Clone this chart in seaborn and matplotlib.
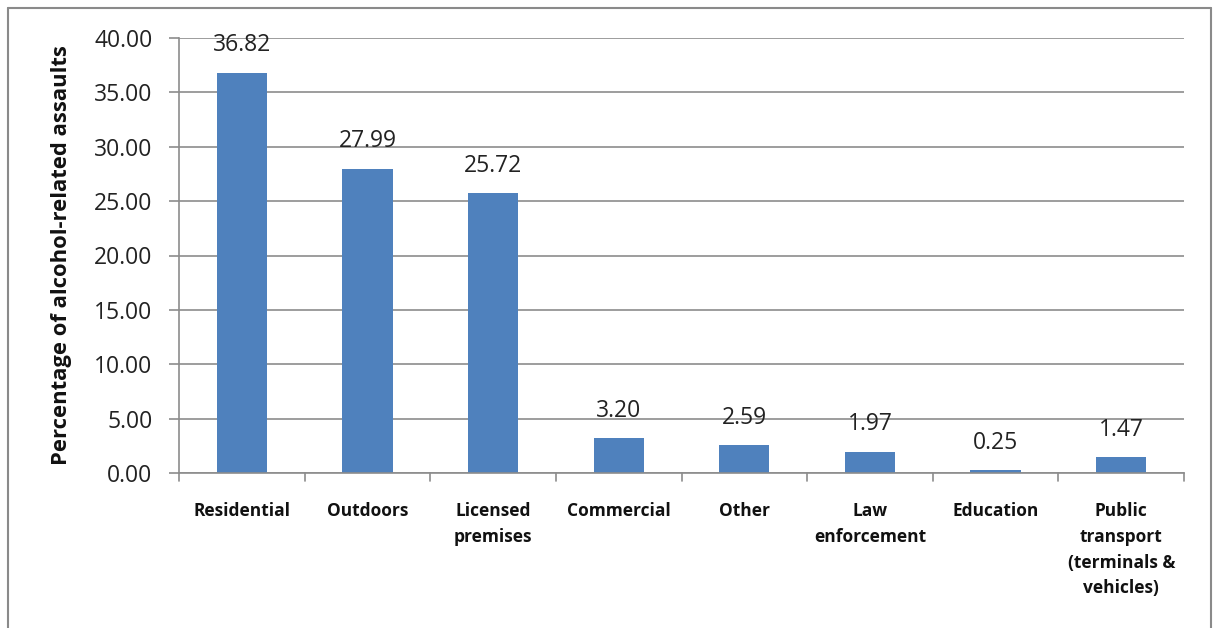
import matplotlib
matplotlib.use("Agg")
import matplotlib.pyplot as plt
from matplotlib.lines import Line2D
import seaborn as sns
import pandas as pd

categories = ["Residential", "Outdoors", "Licensed\npremises", "Commercial",
              "Other", "Law\nenforcement", "Education",
              "Public\ntransport\n(terminals &\nvehicles)"]
values = [36.82, 27.99, 25.72, 3.20, 2.59, 1.97, 0.25, 1.47]
y_ticks = [0, 5, 10, 15, 20, 25, 30, 35, 40]

df = pd.DataFrame({"location": categories, "pct": values})

sns.set_theme(style="white")
plt.rcParams["font.family"] = ["Open Sans", "DejaVu Sans"]

fig = plt.figure(figsize=(12.13, 6.28), dpi=100)
W, H = 1213, 628
ax = fig.add_axes([179 / W, 1 - 473 / H, (1184 - 179) / W, (473 - 38) / H])

sns.barplot(data=df, x="location", y="pct", color="#4F81BD", width=0.4,
            saturation=1, ax=ax)
for p in ax.patches:
    p.set_edgecolor("none")

ax.bar_label(ax.containers[0], labels=[f"{v:.2f}" for v in values],
             padding=11, fontsize=16.5, color="#222222")

ax.set_xlim(-0.5, len(categories) - 0.5)
ax.set_ylim(0, 40)
ax.set_yticks(y_ticks)
ax.set_yticklabels([f"{t:.2f}" for t in y_ticks], fontsize=16.5, color="#222222")
ax.yaxis.grid(True, color="#8c8c8c", linewidth=1.2)
ax.set_axisbelow(True)

ax.set_xticks(range(len(categories)))
ax.set_xticklabels(categories, fontsize=12.5, fontweight="bold", color="#111111",
                   linespacing=1.55)
ax.tick_params(axis="x", length=0, pad=21)
ax.tick_params(axis="y", left=True, length=7, width=1.2, color="#8c8c8c", pad=12)

# category separator ticks below the baseline
for b in range(len(categories) + 1):
    ax.add_line(Line2D([b - 0.5, b - 0.5], [0, -0.018],
                       transform=ax.get_xaxis_transform(), color="#8c8c8c",
                       lw=1.2, clip_on=False))

for side in ["top", "right"]:
    ax.spines[side].set_visible(False)
ax.spines["left"].set_color("#8c8c8c")
ax.spines["left"].set_linewidth(1.2)
ax.spines["bottom"].set_color("#8c8c8c")
ax.spines["bottom"].set_linewidth(1.2)

ax.set_xlabel("")
ax.set_ylabel("Percentage of alcohol-related assaults", fontsize=15.8,
              fontweight="bold", color="#111111")
ax.yaxis.set_label_coords((62 - 179) / (1184 - 179), 0.5)
ax.yaxis.label.set_verticalalignment("center")

# outer chart frame
fx = lambda x: x / W
fy = lambda y: 1 - y / H
for xs, ys in [((8, 8), (8, 628)), ((8, 1211), (8, 8)), ((1211, 1211), (8, 628))]:
    fig.add_artist(Line2D([fx(xs[0]), fx(xs[1])], [fy(ys[0]), fy(ys[1])],
                          color="#8a8a8a", lw=1.5))

fig.savefig("out.png", dpi=100)
